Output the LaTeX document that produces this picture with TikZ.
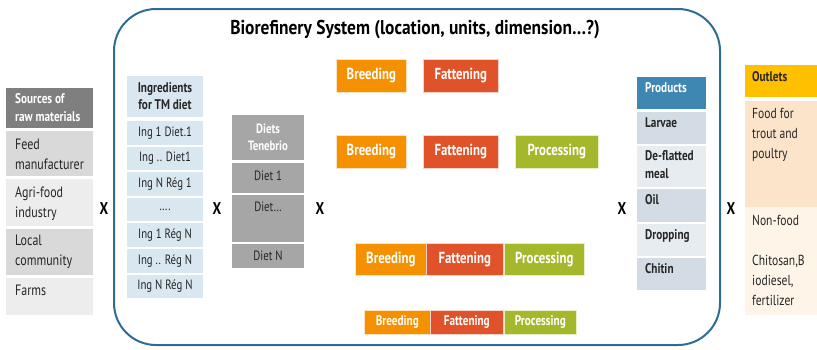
\documentclass[tikz,border=0pt]{standalone}
\usepackage{fontspec}
\setmainfont{PT Sans}[FakeStretch=0.8]
\newfontfamily\titlefont{PT Sans}[FakeStretch=0.87]
\usetikzlibrary{calc}
\definecolor{frame}{HTML}{2E6C93}
\definecolor{srchead}{HTML}{7F7F7F}
\definecolor{srcA}{HTML}{D9D9D9}
\definecolor{srcB}{HTML}{EDEDED}
\definecolor{ingc}{HTML}{D9E7F0}
\definecolor{dietc}{HTML}{A6A6A6}
\definecolor{breedc}{HTML}{F59100}
\definecolor{fatc}{HTML}{E0522A}
\definecolor{procc}{HTML}{A5B72A}
\definecolor{prodhead}{HTML}{3F87B3}
\definecolor{prodA}{HTML}{D3DCE5}
\definecolor{prodB}{HTML}{E7ECF1}
\definecolor{outhead}{HTML}{FFC000}
\definecolor{foodc}{HTML}{FCE4CB}
\definecolor{nonfoodc}{HTML}{FEF4E7}
\definecolor{ink}{HTML}{262626}
\newcommand\cellbox[6]{\node[#6, anchor=north west, minimum width={#4-#2}, minimum height={#5-#3}, inner sep=0pt, outer sep=0pt] (#1) at (#2,#3) {};}
\tikzset{
  cellfill/.style={fill=#1, draw=none},
  txt/.style={font=\fontsize{15}{20}\selectfont, text=ink, inner sep=0pt, align=left, anchor=north west},
  btxt/.style={font=\fontsize{14}{18}\selectfont\bfseries, text=ink, inner sep=0pt, align=left, anchor=north west},
  ctxt/.style={font=\fontsize{13.5}{17}\selectfont, text=ink, inner sep=0pt, align=center},
  stage/.style={fill=#1, draw=white!75!#1, line width=0.6pt, text=white, font=\fontsize{16}{18}\selectfont\bfseries, inner sep=0pt, anchor=north west},
  smallstage/.style={font=\fontsize{14}{16}\selectfont\bfseries},
  mult/.style={font=\fontsize{17}{17}\selectfont\bfseries, text=black, inner sep=0pt},
}
\begin{document}
\begin{tikzpicture}[x=1pt,y=-1pt]
\useasboundingbox (0,0) rectangle (817,349);
% frame
\node[draw=frame, line width=2pt, rounded corners=42pt, anchor=north west, minimum width=606pt, minimum height=336pt, inner sep=0pt] (sys) at (113,8) {};
\node[font=\titlefont\fontsize{20}{20}\selectfont\bfseries, text=black, inner sep=0pt] (title) at (415,30) {Biorefinery System (location, units, dimension…?)};
% sources
\cellbox{srcH}{6}{88}{93}{128}{cellfill=srchead}
\node[btxt, text=white] (srcHt) at (15,93) {Sources of\\raw materials};
\cellbox{src1}{6}{131}{93}{176}{cellfill=srcA}
\node[txt] (src1t) at (15,139) {Feed\\manufacturer};
\cellbox{src2}{6}{179}{93}{226}{cellfill=srcB}
\node[txt] (src2t) at (15,187) {Agri-food\\industry};
\cellbox{src3}{6}{229}{93}{275}{cellfill=srcA}
\node[txt] (src3t) at (15,235) {Local\\community};
\cellbox{src4}{6}{278}{93}{315}{cellfill=srcB}
\node[txt] (src4t) at (15,285) {Farms};
\node[mult] (x1) at (104,209) {X};
% ingredients
\cellbox{ingH}{127}{76}{203}{117}{cellfill=ingc}
\node[ctxt, font=\fontsize{14}{17}\selectfont\bfseries] (ingHt) at (ingH) {Ingredients\\for TM diet};
\foreach \i/\t in {0/Ing 1 Diet.1, 1/Ing .. Diet1, 2/Ing N Rég 1, 3/…., 4/Ing 1 Rég N, 5/Ing .. Rég N, 6/Ing N Rég N}{
  \pgfmathsetmacro\ya{121+25.6*\i}
  \pgfmathsetmacro\yb{\ya+23.6}
  \cellbox{ing\i}{127}{\ya}{203}{\yb}{cellfill=ingc}
  \node[ctxt] (ing\i t) at (ing\i) {\t};
}
\node[mult] (x2) at (217,209) {X};
% diets
\cellbox{dietH}{232}{115}{304}{160}{cellfill=dietc}
\node[ctxt, text=white, font=\fontsize{13.5}{17}\selectfont\bfseries] (dietHt) at (dietH) {Diets\\Tenebrio};
\cellbox{diet1}{232}{163}{304}{193}{cellfill=dietc}
\node[ctxt] (diet1t) at (268,176) {Diet 1};
\cellbox{diet2}{232}{195}{304}{242}{cellfill=dietc}
\node[ctxt] (diet2t) at (268,207) {Diet…};
\cellbox{diet3}{232}{244}{304}{268}{cellfill=dietc}
\node[ctxt] (diet3t) at (268,256) {Diet N};
\node[mult] (x3) at (320,209) {X};
% stages
\node[stage=breedc, minimum width=70pt, minimum height=33pt] (b1) at (336,59) {Breeding};
\node[stage=fatc, minimum width=75pt, minimum height=33pt] (f1) at (423,59) {Fattening};
\node[stage=breedc, minimum width=70pt, minimum height=33pt] (b2) at (336,135) {Breeding};
\node[stage=fatc, minimum width=75pt, minimum height=33pt] (f2) at (423,135) {Fattening};
\node[stage=procc, minimum width=83pt, minimum height=33pt] (p2) at (515,135) {Processing};
\node[stage=breedc, minimum width=71pt, minimum height=32pt] (b3) at (355,243) {Breeding};
\node[stage=fatc, minimum width=77pt, minimum height=32pt] (f3) at (426,243) {Fattening};
\node[stage=procc, minimum width=80pt, minimum height=32pt] (p3) at (504,243) {Processing};
\node[stage=breedc, smallstage, minimum width=66pt, minimum height=24pt] (b4) at (364,310) {Breeding};
\node[stage=fatc, smallstage, minimum width=73pt, minimum height=24pt] (f4) at (430,310) {Fattening};
\node[stage=procc, smallstage, minimum width=72pt, minimum height=24pt] (p4) at (504,310) {Processing};
\node[mult] (x4) at (622,209) {X};
% products
\cellbox{prodH}{637}{77}{706}{109}{cellfill=prodhead}
\node[btxt, text=white] (prodHt) at (645,82) {Products};
\cellbox{prod1}{637}{112}{706}{144}{cellfill=prodA}
\node[btxt] (prod1t) at (645,117) {Larvae};
\cellbox{prod2}{637}{146}{706}{187}{cellfill=prodB}
\node[btxt] (prod2t) at (645,150) {De-flatted\\meal};
\cellbox{prod3}{637}{189}{706}{222}{cellfill=prodA}
\node[btxt] (prod3t) at (645,194) {Oil};
\cellbox{prod4}{637}{224}{706}{256}{cellfill=prodB}
\node[btxt] (prod4t) at (645,229) {Dropping};
\cellbox{prod5}{637}{258}{706}{290}{cellfill=prodA}
\node[btxt] (prod5t) at (645,263) {Chitin};
\node[mult] (x5) at (731,209) {X};
% outlets
\cellbox{outH}{745}{65}{817}{97}{cellfill=outhead}
\node[btxt] (outHt) at (752,71) {Outlets};
\cellbox{out1}{745}{101}{817}{207}{cellfill=foodc}
\node[txt, font=\fontsize{14.5}{20}\selectfont] (out1t) at (752,108) {Food for\\trout and\\poultry};
\cellbox{out2}{745}{207}{817}{315}{cellfill=nonfoodc}
\node[txt, font=\fontsize{14.5}{20}\selectfont] (out2t) at (752,215) {Non-food\\[20pt]Chitosan,B\\iodiesel,\\fertilizer};
\end{tikzpicture}
\end{document}
